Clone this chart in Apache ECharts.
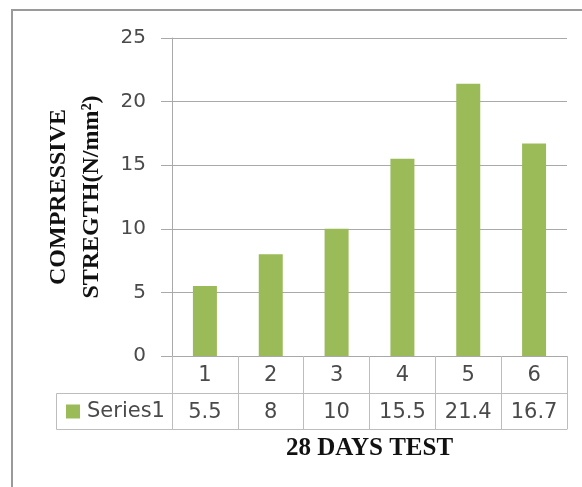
<!DOCTYPE html>
<html><head><meta charset="utf-8">
<script src="https://cdn.jsdelivr.net/npm/echarts@6/dist/echarts.min.js"></script>
<style>html,body{margin:0;padding:0;background:#fff}#c{width:582px;height:487px}</style>
</head><body><div id="c"></div>
<script>
var categories = ['1','2','3','4','5','6'];
var values = [5.5, 8, 10, 15.5, 21.4, 16.7];
var seriesName = 'Series1';
var yTitle = 'COMPRESSIVE\nSTREGTH(N/mm²)';
var xTitle = '28 DAYS TEST';

var chart = echarts.init(document.getElementById('c'), null, {renderer:'canvas'});
var gridCol = '#a9a9a9';
var tableCol = '#bdbdbd';
var labelFont = '"DejaVu Sans", sans-serif';
var serif = '"Liberation Serif", "DejaVu Serif", serif';
chart.setOption({
  animation: false,
  backgroundColor: '#fff',
  grid: {left: 172, right: 15, top: 38, bottom: 131},
  legend: {
    left: 66, top: 400, padding: 0, itemWidth: 14, itemHeight: 14, itemGap: 0,
    icon: 'rect', data: [seriesName],
    textStyle: {fontSize: 21, lineHeight: 23, color: '#4a4a4a', fontFamily: labelFont, padding: [0,0,0,2]}
  },
  graphic: [
    {type: 'rect', shape: {x: 12, y: 10, width: 620, height: 520},
     style: {fill: 'none', stroke: '#9a9a9a', lineWidth: 2}, silent: true},
    {type: 'polyline', shape: {points: [[172,393.5],[56.5,393.5],[56.5,429.5],[172,429.5]]},
     style: {fill: 'none', stroke: tableCol, lineWidth: 1}, silent: true}
  ],
  xAxis: [
    {type: 'category', data: categories, position: 'bottom',
     axisLine: {show: true, lineStyle: {color: gridCol}},
     axisTick: {show: true, length: 73, lineStyle: {color: tableCol}},
     axisLabel: {fontSize: 21, color: '#4a4a4a', fontFamily: labelFont, margin: 9},
     splitLine: {show: false}},
    {type: 'category', data: values.map(String), position: 'bottom', offset: 37,
     axisLine: {show: true, lineStyle: {color: tableCol}},
     axisTick: {show: false},
     axisLabel: {fontSize: 21, color: '#4a4a4a', fontFamily: labelFont, margin: 9}},
    {type: 'category', data: categories, position: 'bottom', offset: 73,
     axisLine: {show: true, lineStyle: {color: tableCol}},
     axisTick: {show: false}, axisLabel: {show: false},
     name: xTitle, nameLocation: 'middle', nameGap: 7,
     nameTextStyle: {fontSize: 25, fontWeight: 'bold', color: '#111', fontFamily: serif}}
  ],
  yAxis: {
    type: 'value', min: 0, max: 25, interval: 5,
    axisLine: {show: true, lineStyle: {color: gridCol}},
    axisTick: {show: true, length: 11, lineStyle: {color: gridCol}},
    axisLabel: {fontSize: 20, color: '#4a4a4a', fontFamily: labelFont, margin: 26},
    splitLine: {show: true, lineStyle: {color: gridCol}},
    name: yTitle, nameLocation: 'middle', nameRotate: 90, nameGap: 64,
    nameTextStyle: {fontSize: 24, fontWeight: 'bold', color: '#111', fontFamily: serif, lineHeight: 33}
  },
  series: [{
    name: seriesName, type: 'bar', data: values, barWidth: 24,
    itemStyle: {color: '#9bbb59'}
  }]
});
</script></body></html>
